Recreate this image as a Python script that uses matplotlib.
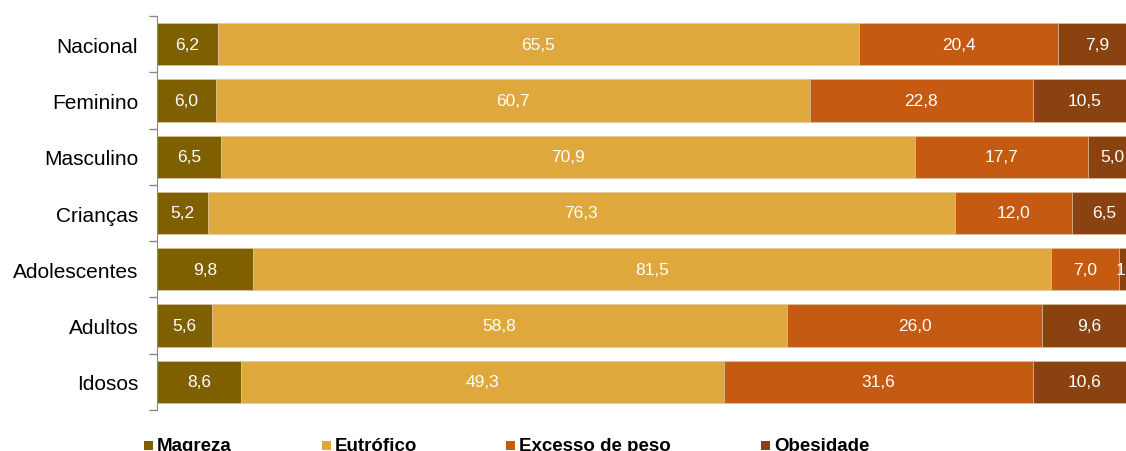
import matplotlib
matplotlib.use("Agg")
import matplotlib.pyplot as plt
from matplotlib.patches import Rectangle
import numpy as np

categories = ["Nacional", "Feminino", "Masculino", "Crianças", "Adolescentes", "Adultos", "Idosos"]
series_names = ["Magreza", "Eutrófico", "Excesso de peso", "Obesidade"]
magreza = [6.2, 6.0, 6.5, 5.2, 9.8, 5.6, 8.6]
eutrofico = [65.5, 60.7, 70.9, 76.3, 81.5, 58.8, 49.3]
excesso = [20.4, 22.8, 17.7, 12.0, 7.0, 26.0, 31.6]
obesidade = [7.9, 10.5, 5.0, 6.5, 1.7, 9.6, 10.6]
colors = ["#7F6000", "#DFA83D", "#C55A13", "#8A4210"]

plt.rcParams['font.family'] = ['Liberation Sans', 'DejaVu Sans']

W, H = 1126, 452
fig = plt.figure(figsize=(W / 100, H / 100), dpi=100)
ax = fig.add_axes([157 / W, 1 - 411 / H, (1126 - 157) / W, (411 - 17) / H])

y = np.arange(len(categories))
left = np.zeros(len(categories))
for vals, name, col in zip([magreza, eutrofico, excesso, obesidade], series_names, colors):
    vals = np.array(vals)
    ax.barh(y, vals, left=left, height=0.75, color=col, label=name,
            edgecolor="#d9c9a0", linewidth=0.4)
    for yi, l, v in zip(y, left, vals):
        t = ax.text(l + v / 2, yi, f"{v:.1f}".replace(".", ","), ha="center", va="center",
                    color="white", fontsize=12.5)
        t.set_clip_on(False)
    left += vals

ax.set_xlim(0, 99)
ax.set_ylim(len(categories) - 0.5, -0.5)
ax.set_yticks(y)
ax.set_yticklabels(categories, fontsize=15)
ax.tick_params(axis="y", length=0, pad=13.5)
ax.set_yticks(np.arange(-0.5, len(categories), 1), minor=True)
ax.tick_params(axis="y", which="minor", length=6, color="#888888", width=1)
ax.set_xticks([])
for s in ["top", "right", "bottom"]:
    ax.spines[s].set_visible(False)
ax.spines["left"].set_color("#888888")

# legend
leg_x = [144, 322, 506, 761]
for x, name, col in zip(leg_x, series_names, colors):
    fig.patches.append(Rectangle((x / W, 1 - 451 / H), 9 / W, 9 / H, transform=fig.transFigure,
                                 facecolor=col, edgecolor="none"))
    fig.text((x + 13) / W, 1 - 451 / H, name, fontsize=13.5, fontweight="bold",
             ha="left", va="baseline", color="black")

fig.savefig("out.png", dpi=100)
